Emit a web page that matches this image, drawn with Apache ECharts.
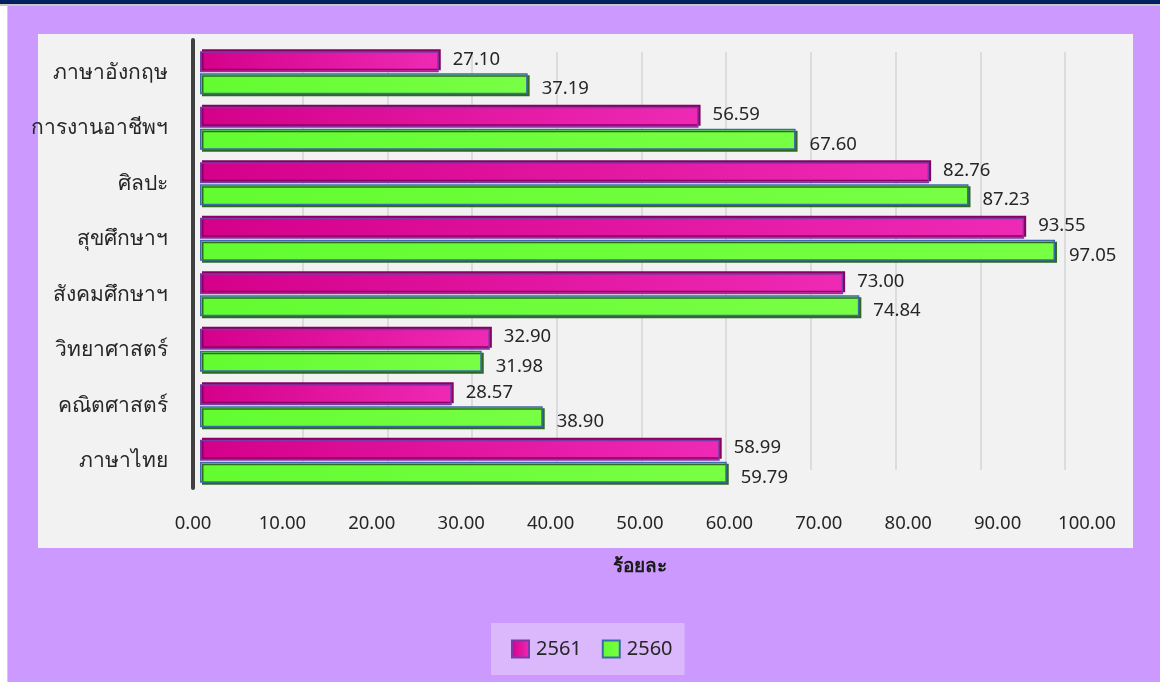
<!DOCTYPE html>
<html><head><meta charset="utf-8">
<script src="https://cdn.jsdelivr.net/npm/echarts@6/dist/echarts.min.js"></script>
<style>
html,body{margin:0;padding:0;background:#ffffff;width:1160px;height:682px;overflow:hidden;}
#top{position:absolute;left:0;top:0;width:1160px;height:4px;background:#002060;}
#top2{position:absolute;left:0;top:4px;width:1160px;height:2px;background:#c8c8c8;}
#side{position:absolute;left:7px;top:6px;width:1px;height:676px;background:#d0d0d0;}
#chart{position:absolute;left:8px;top:6px;width:1152px;height:676px;background:#cc99ff;}
</style></head>
<body>
<div id="top"></div><div id="top2"></div><div id="side"></div>
<div id="chart"></div>
<script>
var categories = ['ภาษาไทย','คณิตศาสตร์','วิทยาศาสตร์','สังคมศึกษาฯ','สุขศึกษาฯ','ศิลปะ','การงานอาชีพฯ','ภาษาอังกฤษ'];
var values2561 = [58.99, 28.57, 32.90, 73.00, 93.55, 82.76, 56.59, 27.10];
var values2560 = [59.79, 38.90, 31.98, 74.84, 97.05, 87.23, 67.60, 37.19];
var xTicks = [0,10,20,30,40,50,60,70,80,90,100];
var seriesNames = ['2561','2560'];
var axisName = 'ร้อยละ';

var F = '"Noto Sans", "Open Sans", "DejaVu Sans", sans-serif';
var chart = echarts.init(document.getElementById('chart'), null, {renderer:'canvas'});
var oL = 8, oT = 6;
function grid(l, t, r, b, extra){ var g = {left:l-oL, top:t-oT, right:1160-r, bottom:682-b, containLabel:false}; return Object.assign(g, extra||{}); }
function fmt(v){ return Number(v).toFixed(2); }

chart.setOption({
  animation:false,
  textStyle:{fontFamily:F},
  grid:[
    grid(200, 45, 1081, 489),
    grid(193, 40, 1087, 488),
    grid(218, 52, 1065, 470),
    grid(38, 34, 1133, 548, {show:true, backgroundColor:'#f2f2f2', borderWidth:0, z:0})
  ],
  xAxis:[
    {gridIndex:0, type:'value', min:xTicks[0], max:xTicks[xTicks.length-1], interval:10, axisLine:{show:false}, axisTick:{show:false}, axisLabel:{show:false}, splitLine:{show:false}},
    {gridIndex:1, type:'value', min:xTicks[0], max:xTicks[xTicks.length-1], interval:10, axisLine:{show:false}, axisTick:{show:false}, splitLine:{show:false},
      axisLabel:{show:true, margin:26, fontSize:18.5, color:'#262626', fontFamily:F, formatter:fmt},
      name:axisName, nameLocation:'middle', nameGap:69, nameTextStyle:{fontSize:19, fontWeight:'bold', color:'#1a1a1a'}},
    {gridIndex:2, type:'value', min:xTicks[0], max:xTicks[xTicks.length-1], interval:10, axisLine:{show:false}, axisTick:{show:false}, axisLabel:{show:false},
      splitLine:{show:true, showMinLine:false, lineStyle:{color:'#dcdcdc', width:2}}},
    {gridIndex:3, type:'value', show:false}
  ],
  yAxis:[
    {gridIndex:0, type:'category', data:categories, axisLine:{show:false}, axisTick:{show:false}, axisLabel:{show:true, fontSize:21, color:'#262626', margin:32, fontFamily:F}},
    {gridIndex:1, type:'category', data:categories, axisLine:{show:true, lineStyle:{color:'#404040', width:4}}, axisTick:{show:false}, axisLabel:{show:false}},
    {gridIndex:2, type:'category', data:categories, show:false},
    {gridIndex:3, type:'category', show:false}
  ],
  legend:{
    data:seriesNames, left:491-oL, top:623-oT, itemWidth:17, itemHeight:17, itemGap:20,
    padding:[16,12,16,20], backgroundColor:'#dab8fb', icon:'rect',
    textStyle:{fontSize:20, color:'#262626', fontFamily:F, padding:[0,0,0,2]}
  },
  series:[
    {name:'2561', type:'bar', xAxisIndex:0, yAxisIndex:0, data:values2561, barWidth:21, barGap:'5%', z:3,
      itemStyle:{color:new echarts.graphic.LinearGradient(0,0,1,0,[{offset:0,color:'#d4008a'},{offset:1,color:'#ee2ab5'}]), borderColor:'#7a3aa8', borderWidth:1.5,
        shadowColor:'#8a0060', shadowOffsetX:2, shadowOffsetY:-2, shadowBlur:0},
      label:{show:true, position:'right', distance:14, offset:[0,-2], fontSize:18.5, color:'#262626', fontFamily:F, formatter:function(p){return fmt(p.value);}}},
    {name:'2560', type:'bar', xAxisIndex:0, yAxisIndex:0, data:values2560, barWidth:21, barGap:'5%', z:3,
      itemStyle:{color:new echarts.graphic.LinearGradient(0,0,1,0,[{offset:0,color:'#62fc30'},{offset:1,color:'#78ff44'}]), borderColor:'#3d6aa8', borderWidth:1.5,
        shadowColor:'#2f6a20', shadowOffsetX:2, shadowOffsetY:2, shadowBlur:0},
      label:{show:true, position:'right', distance:14, offset:[0,5], fontSize:18.5, color:'#262626', fontFamily:F, formatter:function(p){return fmt(p.value);}}}
  ]
});
</script>
</body></html>
